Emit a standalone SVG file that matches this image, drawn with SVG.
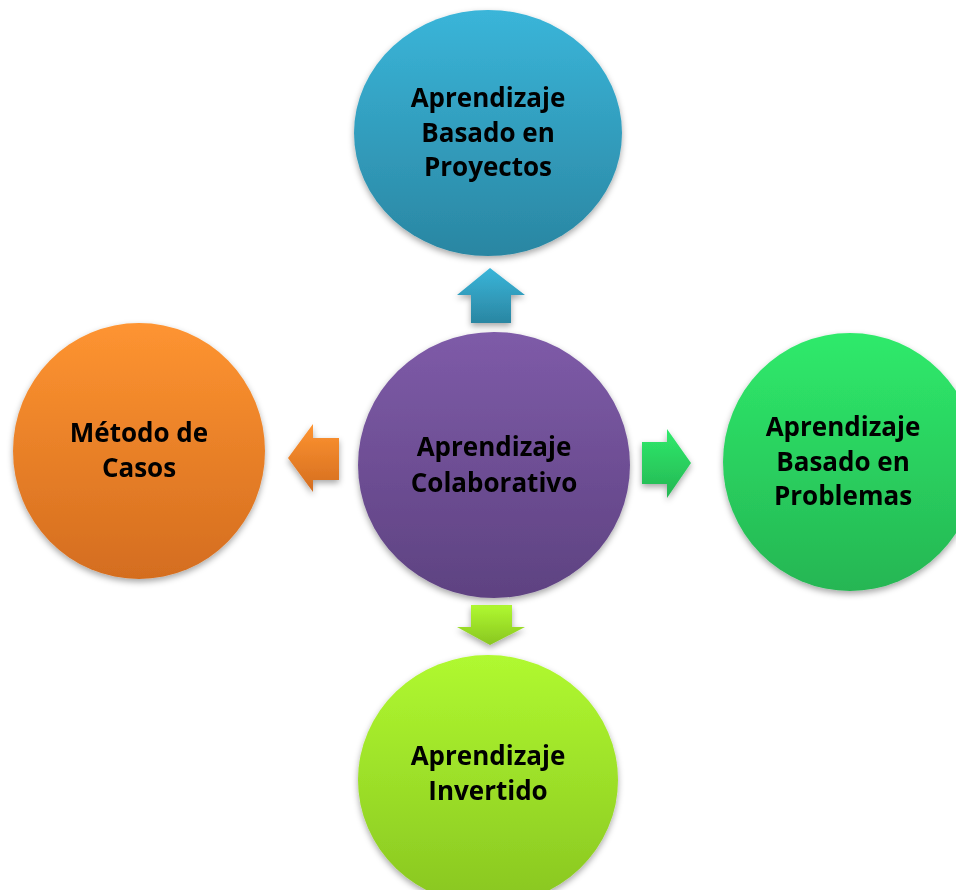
<svg xmlns="http://www.w3.org/2000/svg" width="956" height="890" viewBox="0 0 956 890">
<defs>
<linearGradient id="gBlue" x1="0" y1="0" x2="0" y2="1"><stop offset="0" stop-color="#3AB5D9"/><stop offset="1" stop-color="#2A86A2"/></linearGradient>
<linearGradient id="gPurple" x1="0" y1="0" x2="0" y2="1"><stop offset="0" stop-color="#7E5BA8"/><stop offset="1" stop-color="#5E4281"/></linearGradient>
<linearGradient id="gGreen" x1="0" y1="0" x2="0" y2="1"><stop offset="0" stop-color="#2FEA6B"/><stop offset="1" stop-color="#25B653"/></linearGradient>
<linearGradient id="gOrange" x1="0" y1="0" x2="0" y2="1"><stop offset="0" stop-color="#FE9431"/><stop offset="1" stop-color="#D46D1F"/></linearGradient>
<linearGradient id="gLime" x1="0" y1="0" x2="0" y2="1"><stop offset="0" stop-color="#B0F930"/><stop offset="1" stop-color="#89C621"/></linearGradient>
<filter id="sh" x="-20%" y="-20%" width="140%" height="140%"><feDropShadow dx="0" dy="3" stdDeviation="3" flood-color="#000" flood-opacity="0.35"/></filter>
</defs>
<style>
.lbl{font-family:"Open Sans","Liberation Sans",Arial,sans-serif;font-weight:bold;font-size:26px;fill:#000;text-anchor:middle}
.node{filter:url(#sh)}
.arr{filter:url(#sh)}
</style>
<rect width="956" height="890" fill="#fff"/>
<g id="connectors">
<polygon class="arr" fill="url(#gBlue)" points="490,268 525,295 511,295 511,323 471,323 471,295 457,295"/>
<polygon class="arr" fill="url(#gOrange)" points="288,458 313,424 313,438 339,438 339,480 313,480 313,492"/>
<polygon class="arr" fill="url(#gGreen)" points="691,463 667,429 667,442 642,442 642,484 667,484 667,498"/>
<polygon class="arr" fill="url(#gLime)" points="490,645 525,627 512,627 512,605 471,605 471,627 457,627"/>
</g>
<g id="node-proyectos" class="node">
<ellipse cx="488" cy="133" rx="134" ry="123" fill="url(#gBlue)"/>
<text class="lbl" x="488" y="107">Aprendizaje</text>
<text class="lbl" x="488" y="142">Basado en</text>
<text class="lbl" x="488" y="176">Proyectos</text>
</g>
<g id="node-colaborativo" class="node">
<ellipse cx="494" cy="465" rx="136" ry="133" fill="url(#gPurple)"/>
<text class="lbl" x="494" y="456">Aprendizaje</text>
<text class="lbl" x="494" y="492">Colaborativo</text>
</g>
<g id="node-problemas" class="node">
<ellipse cx="850" cy="462" rx="127" ry="129" fill="url(#gGreen)"/>
<text class="lbl" x="843" y="436">Aprendizaje</text>
<text class="lbl" x="843" y="471">Basado en</text>
<text class="lbl" x="843" y="505">Problemas</text>
</g>
<g id="node-casos" class="node">
<ellipse cx="139" cy="451" rx="126" ry="128" fill="url(#gOrange)"/>
<text class="lbl" x="139" y="442">Método de</text>
<text class="lbl" x="139" y="477">Casos</text>
</g>
<g id="node-invertido" class="node">
<ellipse cx="488" cy="780" rx="130" ry="125" fill="url(#gLime)"/>
<text class="lbl" x="488" y="765">Aprendizaje</text>
<text class="lbl" x="488" y="800">Invertido</text>
</g>
</svg>
